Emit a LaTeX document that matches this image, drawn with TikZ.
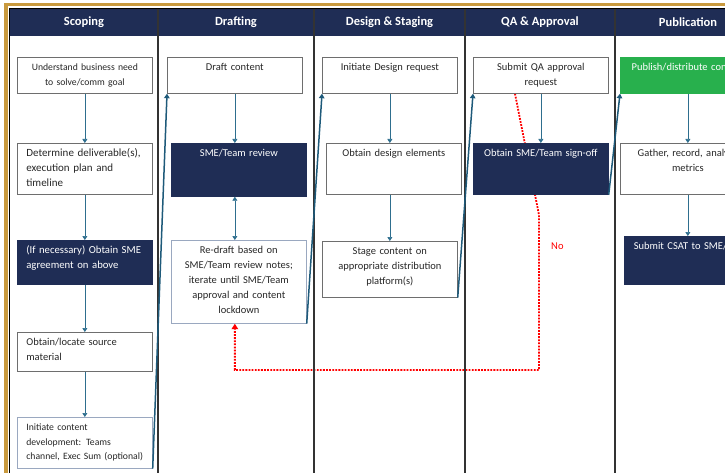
\documentclass[tikz,border=0pt]{standalone}
\usepackage{fontspec}
\setmainfont{Carlito}
\usepackage{xcolor}
\usepackage{tikz}
\usetikzlibrary{arrows.meta,backgrounds}

\definecolor{navy}{HTML}{1F2D55}
\definecolor{flowteal}{HTML}{2E6E8E}
\definecolor{linkteal}{HTML}{1E5A7A}
\definecolor{framegold}{HTML}{C99A3E}
\definecolor{pubgreen}{HTML}{28B04D}
\definecolor{boxgray}{HTML}{6E6E6E}
\definecolor{slate}{HTML}{9AA8C0}

\tikzset{
  stepbox/.style={draw=boxgray, line width=0.7pt, anchor=north west, inner xsep=4pt,
    inner ysep=4pt, text height=9.5pt, text width=127pt, align=center,
    text=black!85, font=\fontsize{10.5}{15}\selectfont},
  leftbox/.style={stepbox, inner xsep=9pt, text width=117pt, align=left},
  darkbox/.style={draw=navy, fill=navy, text=white},
  lane/.style={draw=black!80, line width=1.3pt},
  lanehead/.style={text=white, font=\fontsize{12.5}{14}\bfseries\selectfont},
  flow/.style={draw=flowteal, line width=0.6pt, -{Triangle[width=5pt,length=4pt]}},
  flowboth/.style={draw=flowteal, line width=0.6pt,
    {Triangle[width=5pt,length=4pt]}-{Triangle[width=5pt,length=4pt]}},
  handoff/.style={draw=linkteal, line width=1.5pt, -{Triangle[width=5.5pt,length=4.5pt]}},
  noloop/.style={draw=red, line width=1.8pt, dash pattern=on 1.8pt off 1.3pt,
    -{Triangle[width=6.5pt,length=5.5pt]}}
}

\begin{document}
\begin{tikzpicture}[x=1pt, y=-1pt]
  \path[use as bounding box] (0,0) rectangle (725,473);
  \clip (0,0) rectangle (725,473);

  \fill[framegold] (4,3) rectangle (8,473);
  \fill[framegold] (4,3) rectangle (725,6.5);
  \fill[navy] (9.5,9) rectangle (725,36);
  \draw[black, line width=1pt] (9.5,473) -- (9.5,9) -- (725,9);
  \draw[lane] (158,9) -- (158,473);
  \draw[lane] (314,9) -- (314,473);
  \draw[lane] (465,9) -- (465,473);
  \draw[lane] (615,9) -- (615,473);

  \node[lanehead] (hscoping) at (84,22.5) {Scoping};
  \node[lanehead] (hdrafting) at (236,22.5) {Drafting};
  \node[lanehead] (hdesign) at (389.5,22.5) {Design \& Staging};
  \node[lanehead] (hqa) at (540,22.5) {QA \& Approval};
  \node[lanehead] (hpublish) at (688,22.5) {Publication};

  \node[stepbox, font=\fontsize{9.7}{15}\selectfont, text depth=18.5pt] (understand) at (17,57)
    {Understand business need\\to solve/comm goal};
  \node[leftbox, font=\fontsize{11}{15}\selectfont, text depth=33.5pt] (deliverable) at (17,143)
    {Determine deliverable(s),\\execution plan and\\timeline};
  \node[leftbox, darkbox, font=\fontsize{10.7}{15}\selectfont, text depth=26.5pt] (smeagree) at (17,240)
    {(If necessary) Obtain SME\\agreement on above};
  \node[leftbox, text depth=21.5pt] (source) at (17,332)
    {Obtain/locate source\\material};
  \node[leftbox, draw=slate, font=\fontsize{9.7}{14.5}\selectfont, text depth=33.5pt] (initiate) at (17,417)
    {Initiate content\\development: Teams\\channel, Exec Sum (optional)};

  \node[stepbox, text depth=18.5pt] (draft) at (167,57) {Draft content};
  \node[stepbox, darkbox, text depth=35.5pt] (review) at (171,143) {SME/Team review};
  \node[stepbox, draw=slate, text depth=65.5pt] (redraft) at (171,240)
    {Re-draft based on\\SME/Team review notes;\\iterate until SME/Team\\approval and content\\lockdown};

  \node[stepbox, text depth=18.5pt] (designreq) at (322,57) {Initiate Design request};
  \node[stepbox, text depth=33.5pt] (elements) at (326,143) {Obtain design elements};
  \node[stepbox, text depth=38.5pt] (stage) at (322,241)
    {Stage content on\\appropriate distribution\\platform(s)};

  \node[stepbox, text depth=18.5pt] (qarequest) at (473,57) {Submit QA approval\\request};
  \node[stepbox, darkbox, text depth=33.5pt] (signoff) at (473,143) {Obtain SME/Team sign-off};

  \node[stepbox, draw=pubgreen, fill=pubgreen, text=white, text depth=18.5pt] (publish) at (620,57)
    {Publish/distribute content};
  \node[stepbox, text depth=33.5pt] (metrics) at (620,143) {Gather, record, analyze\\metrics};
  \node[stepbox, darkbox, text depth=30.5pt] (csat) at (624,236) {Submit CSAT to SME/Team};

  \draw[flow] (understand.south) -- (deliverable.north);
  \draw[flow] (deliverable.south) -- (smeagree.north);
  \draw[flow] (smeagree.south) -- (source.north);
  \draw[flow] (source.south) -- (initiate.north);
  \draw[flow] (draft.south) -- (draft.south |- review.north);
  \draw[flowboth] (draft.south |- review.south) -- (draft.south |- redraft.north);
  \draw[flow] (designreq.south) -- (designreq.south |- elements.north);
  \draw[flow] (designreq.south |- elements.south) -- (stage.north);
  \draw[flow] (qarequest.south) -- (signoff.north);
  \draw[flow] (publish.south) -- (metrics.north);
  \draw[flow] (metrics.south) -- (metrics.south |- csat.north);

  \draw[handoff] (initiate.south east) -- (draft.south west);
  \draw[handoff] (redraft.south east) -- (designreq.south west);
  \draw[handoff] (stage.south east) -- (qarequest.south west);
  \draw[handoff] (signoff.south east) -- (publish.south west);

  \coordinate (nobend) at (539,215);
  \coordinate (nocorner) at (539,370);
  \begin{scope}[on background layer]
    \draw[noloop] ([xshift=42pt]qarequest.south west) -- (nobend)
      -- node[pos=0.2, right=8pt, text=red, font=\fontsize{10.5}{12}\selectfont] (nolabel) {No} (nocorner)
      -| (draft.south |- redraft.south);
  \end{scope}
\end{tikzpicture}
\end{document}
